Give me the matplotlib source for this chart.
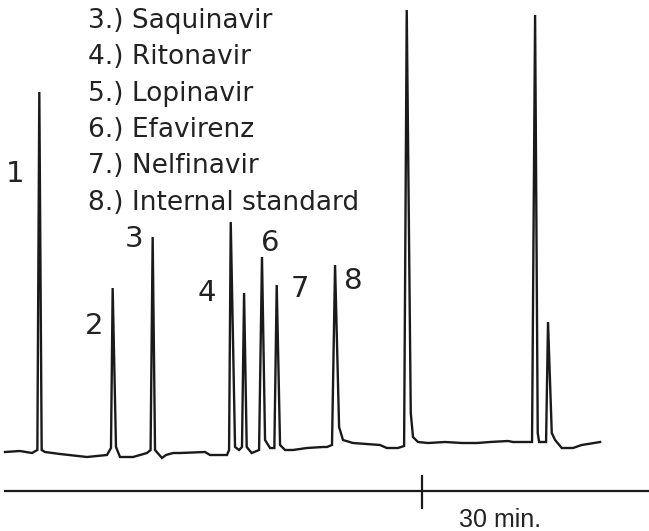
import matplotlib
matplotlib.use("Agg")
import matplotlib.pyplot as plt

# retention time (min) and detector signal (arbitrary units)
time_min = [
    0.00, 1.08, 1.94, 2.33, 2.47, 2.64, 2.88, 3.96, 5.90, 7.34,
    7.63, 7.75, 7.99, 8.28, 9.22, 10.22, 10.48, 10.63, 10.80, 11.30,
    11.59, 12.10, 12.60, 14.40, 14.76, 15.98, 16.13, 16.25, 16.56, 16.85,
    17.06, 17.21, 17.40, 17.76, 18.29, 18.50, 18.72, 19.08, 19.39, 19.56,
    19.80, 20.16, 20.73, 21.74, 22.89, 23.18, 23.54, 23.76, 24.05, 24.33,
    25.05, 27.00, 27.48, 28.29, 28.73, 28.92, 29.21, 29.37, 29.73, 30.45,
    31.68, 32.90, 33.98, 34.92, 36.21, 36.57, 37.94, 38.16, 38.35, 38.45,
    38.95, 39.09, 39.36, 39.60, 40.08, 40.89, 41.51, 41.97, 42.84,
]
signal = [
    8, 9, 7, 10, 368, 10, 8, 6, 3, 5,
    12, 172, 13, 3, 3, 7, 10, 223, 10, 2,
    5, 7, 7, 8, 5, 5, 10, 238, 13, 10,
    13, 167, 13, 7, 10, 203, 20, 12, 12, 175,
    15, 10, 10, 12, 13, 13, 15, 195, 33, 20,
    17, 15, 12, 12, 14, 450, 47, 23, 18, 17,
    18, 17, 17, 18, 19, 18, 18, 445, 27, 18,
    18, 138, 27, 20, 12, 12, 15, 16, 18,
]

peak_labels = ["1", "2", "3", "4", "6", "7", "8"]
peak_label_time = [0.72, 6.44, 9.32, 14.54, 19.08, 21.24, 25.09]
peak_label_signal = [286, 134, 221, 167, 217, 171, 179]

legend_lines = [
    "3.) Saquinavir",
    "4.) Ritonavir",
    "5.) Lopinavir",
    "6.) Efavirenz",
    "7.) Nelfinavir",
    "8.) Internal standard",
]

scale_tick = 30
scale_label = "30 min."

fig = plt.figure(figsize=(6.49, 5.31), dpi=100)
ax = fig.add_axes([0, 0, 1, 1])
ax.set_xlim(-0.36, 46.36)
ax.set_ylim(-71, 460)
ax.axis("off")

ax.plot(time_min, signal, color="#1a1a1a", lw=1.7, solid_joinstyle="miter")

for lab, t, s in zip(peak_labels, peak_label_time, peak_label_signal):
    ax.text(t, s, lab, fontsize=21, ha="center", va="center", color="#222222")

# time axis with a single scale mark
ax.plot([0, 46.36], [-31, -31], color="#1a1a1a", lw=1.6)
ax.plot([scale_tick, scale_tick], [-16, -48], color="#1a1a1a", lw=1.6)
ax.text(scale_tick + 2.7, -67, scale_label, fontsize=18, ha="left", va="baseline",
        family="Liberation Sans", color="#222222")

for i, line in enumerate(legend_lines):
    fig.text(88 / 649, 1 - (28 + i * 36.3) / 531, line, fontsize=19,
             ha="left", va="baseline", color="#222222")

fig.savefig("out.png", dpi=100)
plt.close(fig)
